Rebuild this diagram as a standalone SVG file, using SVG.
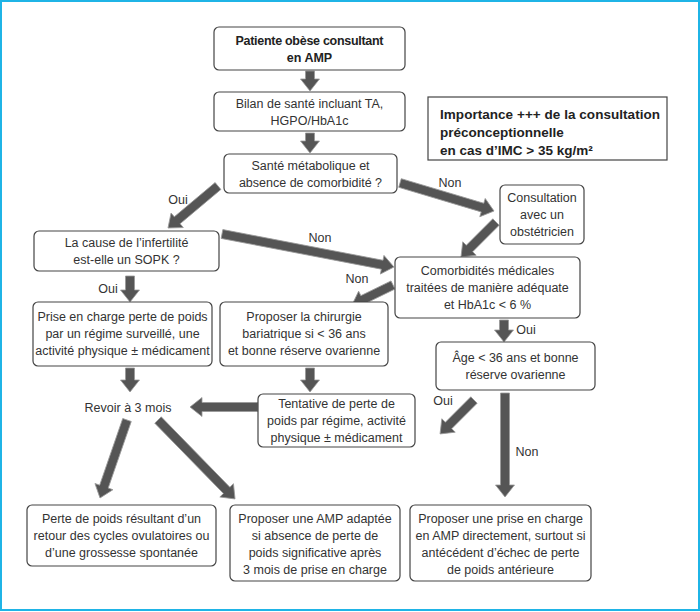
<svg xmlns="http://www.w3.org/2000/svg" width="700" height="612" viewBox="0 0 700 612">
<style>
.bx{fill:#fff;stroke:#444;stroke-width:1.2}
.t{font-family:"Liberation Sans",Arial,sans-serif;font-size:12.5px;fill:#333;text-anchor:middle}
.b{font-weight:bold;fill:#222}
.l{text-anchor:start}
.nb{font-size:13.5px}
.ar{fill:#555;stroke:#999;stroke-width:0.8}
</style>
<rect x="1" y="1" width="698" height="609" fill="#fff" stroke="#1fb4e6" stroke-width="2"/>

<g id="connectors">
<g transform="translate(310,71) rotate(90)"><path class="ar" d="M0,-4.5H8V-9.5L20,0L8,9.5V4.5H0Z"/></g>
<g transform="translate(310,133) rotate(90)"><path class="ar" d="M0,-4.5H8V-9.5L20,0L8,9.5V4.5H0Z"/></g>
<g transform="translate(218,186) rotate(139.97)"><path class="ar" d="M0,-4.5H53.3V-9.5L65.3,0L53.3,9.5V4.5H0Z"/></g>
<g transform="translate(400,183) rotate(16.6)"><path class="ar" d="M0,-4.5H86.1V-9.5L98.1,0L86.1,9.5V4.5H0Z"/></g>
<g transform="translate(496,222) rotate(135)"><path class="ar" d="M0,-4.5H37.5V-9.5L49.5,0L37.5,9.5V4.5H0Z"/></g>
<g transform="translate(222,234) rotate(10.86)"><path class="ar" d="M0,-4.5H163.1V-9.5L175.1,0L163.1,9.5V4.5H0Z"/></g>
<g transform="translate(393,285) rotate(154)"><path class="ar" d="M0,-4.5H33.6V-9.5L45.6,0L33.6,9.5V4.5H0Z"/></g>
<g transform="translate(130,276) rotate(90)"><path class="ar" d="M0,-4.5H14V-9.5L26,0L14,9.5V4.5H0Z"/></g>
<g transform="translate(504,320) rotate(90)"><path class="ar" d="M0,-4.5H10V-9.5L22,0L10,9.5V4.5H0Z"/></g>
<g transform="translate(130,368) rotate(90)"><path class="ar" d="M0,-4.5H12V-9.5L24,0L12,9.5V4.5H0Z"/></g>
<g transform="translate(310,368) rotate(90)"><path class="ar" d="M0,-4.5H12V-9.5L24,0L12,9.5V4.5H0Z"/></g>
<g transform="translate(258,407) rotate(180)"><path class="ar" d="M0,-4.5H56V-9.5L68,0L56,9.5V4.5H0Z"/></g>
<g transform="translate(474,400) rotate(135)"><path class="ar" d="M0,-4.5H36V-9.5L48,0L36,9.5V4.5H0Z"/></g>
<g transform="translate(505,393) rotate(90)"><path class="ar" d="M0,-4.5H92V-9.5L104,0L92,9.5V4.5H0Z"/></g>
<g transform="translate(127,420) rotate(109.1)"><path class="ar" d="M0,-4.5H70.5V-9.5L82.5,0L70.5,9.5V4.5H0Z"/></g>
<g transform="translate(158,420) rotate(45.7)"><path class="ar" d="M0,-4.5H98.3V-9.5L110.3,0L98.3,9.5V4.5H0Z"/></g>
<text class="t" x="178" y="204">Oui</text>
<text class="t" x="450" y="187">Non</text>
<text class="t" x="320" y="242">Non</text>
<text class="t" x="357" y="283">Non</text>
<text class="t" x="108" y="293">Oui</text>
<text class="t" x="526" y="334">Oui</text>
<text class="t" x="443" y="405">Oui</text>
<text class="t" x="527" y="456">Non</text>
</g>

<g id="n1"><rect class="bx" x="214" y="27" width="191" height="43" rx="5"/>
<text class="t b" x="309.5" y="45" textLength="148">Patiente obèse consultant</text>
<text class="t b" x="309.5" y="62">en AMP</text></g>

<g id="n2"><rect class="bx" x="214" y="92" width="191" height="39" rx="5"/>
<text class="t" x="309.5" y="108">Bilan de santé incluant TA,</text>
<text class="t" x="309.5" y="125">HGPO/HbA1c</text></g>

<g id="n3"><rect class="bx" x="224" y="154" width="173" height="39" rx="5"/>
<text class="t" x="310.5" y="170">Santé métabolique et</text>
<text class="t" x="310.5" y="187">absence de comorbidité ?</text></g>

<g id="note"><rect x="428" y="97" width="239" height="63" fill="#fff" stroke="#444" stroke-width="1.2"/>
<text class="t b l nb" x="440" y="119" textLength="220">Importance +++ de la consultation</text>
<text class="t b l nb" x="440" y="137">préconceptionnelle</text>
<text class="t b l nb" x="440" y="155">en cas d’IMC &gt; 35 kg/m²</text></g>

<g id="n4"><rect class="bx" x="500" y="185" width="84" height="59" rx="5"/>
<text class="t" x="542" y="202">Consultation</text>
<text class="t" x="542" y="219">avec un</text>
<text class="t" x="542" y="236">obstétricien</text></g>

<g id="n5"><rect class="bx" x="34" y="231" width="185" height="40" rx="5"/>
<text class="t" x="126.5" y="247">La cause de l’infertilité</text>
<text class="t" x="126.5" y="264">est-elle un SOPK ?</text></g>

<g id="n6"><rect class="bx" x="395" y="257" width="185" height="61" rx="5"/>
<text class="t" x="487.5" y="275">Comorbidités médicales</text>
<text class="t" x="487.5" y="292">traitées de manière adéquate</text>
<text class="t" x="487.5" y="309">et HbA1c &lt; 6 %</text></g>

<g id="n7"><rect class="bx" x="33" y="302" width="179" height="64" rx="5"/>
<text class="t" x="122.5" y="321">Prise en charge perte de poids</text>
<text class="t" x="122.5" y="338">par un régime surveillé, une</text>
<text class="t" x="122.5" y="355">activité physique ± médicament</text></g>

<g id="n8"><rect class="bx" x="220" y="302" width="168" height="64" rx="5"/>
<text class="t" x="304" y="321">Proposer la chirurgie</text>
<text class="t" x="304" y="338">bariatrique si &lt; 36 ans</text>
<text class="t" x="304" y="355">et bonne réserve ovarienne</text></g>

<g id="n9"><rect class="bx" x="436" y="342" width="159" height="48" rx="5"/>
<text class="t" x="515.5" y="362">Âge &lt; 36 ans et bonne</text>
<text class="t" x="515.5" y="379">réserve ovarienne</text></g>

<g id="n10"><text class="t" x="128" y="412">Revoir à 3 mois</text></g>

<g id="n11"><rect class="bx" x="258" y="394" width="157" height="53" rx="5"/>
<text class="t" x="336.5" y="408">Tentative de perte de</text>
<text class="t" x="336.5" y="425">poids par régime, activité</text>
<text class="t" x="336.5" y="442">physique ± médicament</text></g>

<g id="n12"><rect class="bx" x="27" y="505" width="189" height="61" rx="5"/>
<text class="t" x="121.5" y="523">Perte de poids résultant d’un</text>
<text class="t" x="121.5" y="540">retour des cycles ovulatoires ou</text>
<text class="t" x="121.5" y="557">d’une grossesse spontanée</text></g>

<g id="n13"><rect class="bx" x="230" y="505" width="170" height="76" rx="5"/>
<text class="t" x="315" y="523">Proposer une AMP adaptée</text>
<text class="t" x="315" y="540">si absence de perte de</text>
<text class="t" x="315" y="557">poids significative après</text>
<text class="t" x="315" y="574">3 mois de prise en charge</text></g>

<g id="n14"><rect class="bx" x="410" y="505" width="181" height="76" rx="5"/>
<text class="t" x="500.5" y="523">Proposer une prise en charge</text>
<text class="t" x="500.5" y="540">en AMP directement, surtout si</text>
<text class="t" x="500.5" y="557">antécédent d’échec de perte</text>
<text class="t" x="500.5" y="574">de poids antérieure</text></g>
</svg>
